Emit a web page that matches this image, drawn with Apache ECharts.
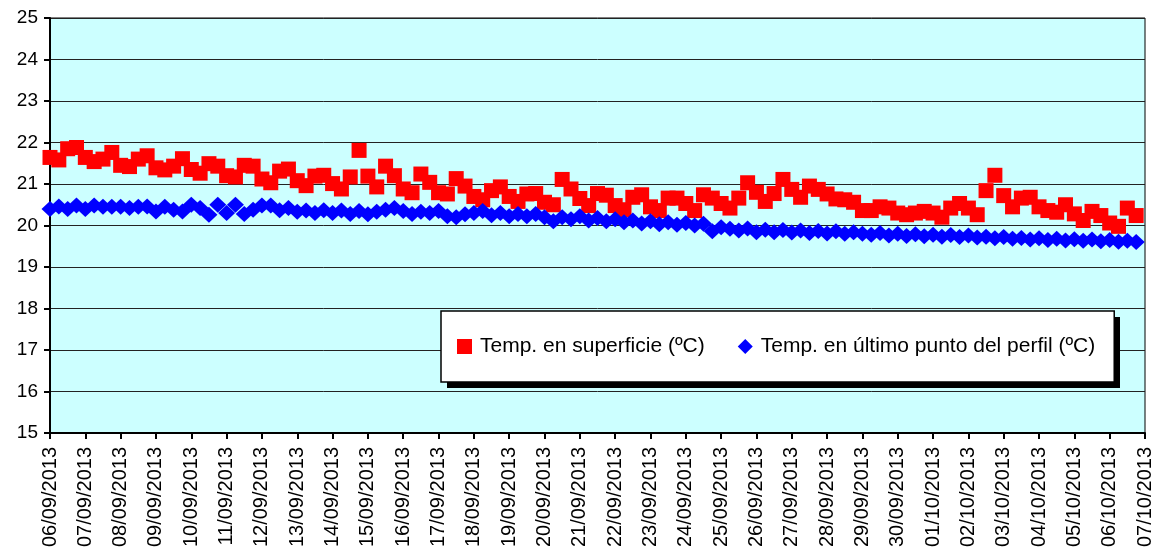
<!DOCTYPE html>
<html>
<head>
<meta charset="utf-8">
<script src="https://cdn.jsdelivr.net/npm/echarts@6/dist/echarts.min.js"></script>
<style>
html,body{margin:0;padding:0;background:#fff;}
#chart{width:1155px;height:555px;}
</style>
</head>
<body>
<div id="chart"></div>
<script>
// Tick labels (one per day)
const dayLabels = ["06/09/2013","07/09/2013","08/09/2013","09/09/2013","10/09/2013","11/09/2013","12/09/2013","13/09/2013","14/09/2013","15/09/2013","16/09/2013","17/09/2013","18/09/2013","19/09/2013","20/09/2013","21/09/2013","22/09/2013","23/09/2013","24/09/2013","25/09/2013","26/09/2013","27/09/2013","28/09/2013","29/09/2013","30/09/2013","01/10/2013","02/10/2013","03/10/2013","04/10/2013","05/10/2013","06/10/2013","07/10/2013"];
const hours = ["00:00","06:00","12:00","18:00"];

const seriesNames = ["Temp. en superficie (ºC)", "Temp. en último punto del perfil (ºC)"];

// Surface temperature (every 6 h)
const surfaceTemp = [
21.64,21.58,21.85,21.88,21.64,21.54,21.60,21.76,21.45,21.42,
21.60,21.68,21.39,21.34,21.43,21.61,21.35,21.26,21.49,21.43,
21.20,21.17,21.45,21.43,21.12,21.03,21.31,21.36,21.08,20.96,
21.19,21.21,21.01,20.88,21.17,21.81,21.19,20.93,21.43,21.20,
20.88,20.79,21.24,21.04,20.79,20.76,21.13,20.95,20.70,20.62,
20.84,20.93,20.70,20.58,20.76,20.77,20.56,20.50,21.11,20.88,
20.65,20.48,20.77,20.73,20.48,20.38,20.68,20.74,20.45,20.36,
20.66,20.66,20.53,20.36,20.74,20.66,20.53,20.42,20.66,21.03,
20.80,20.58,20.77,21.11,20.87,20.68,20.95,20.87,20.76,20.64,
20.62,20.56,20.36,20.36,20.45,20.42,20.30,20.26,20.30,20.34,
20.30,20.20,20.42,20.53,20.42,20.26,20.84,21.21,20.72,20.45,
20.66,20.68,20.45,20.36,20.32,20.50,20.28,20.12,20.34,20.24,
20.06,19.98,20.42,20.24
];

// Temperature at last profile point (every 6 h)
const bottomTemp = [
20.40,20.46,20.40,20.48,20.40,20.48,20.45,20.45,20.45,20.42,
20.45,20.46,20.34,20.45,20.38,20.34,20.50,20.42,20.26,20.50,
20.30,20.50,20.28,20.38,20.48,20.48,20.37,20.42,20.33,20.36,
20.30,20.37,20.30,20.36,20.28,20.35,20.27,20.33,20.38,20.42,
20.35,20.28,20.33,20.30,20.35,20.22,20.20,20.27,20.30,20.35,
20.25,20.30,20.22,20.28,20.22,20.28,20.20,20.10,20.20,20.15,
20.22,20.12,20.18,20.10,20.15,20.08,20.12,20.05,20.10,20.03,
20.08,20.02,20.06,20.00,20.04,19.86,19.96,19.92,19.88,19.93,
19.84,19.90,19.84,19.89,19.83,19.88,19.82,19.87,19.81,19.86,
19.80,19.84,19.80,19.78,19.82,19.76,19.80,19.75,19.79,19.74,
19.78,19.73,19.77,19.72,19.76,19.71,19.73,19.69,19.72,19.68,
19.70,19.66,19.69,19.65,19.68,19.64,19.67,19.63,19.66,19.62,
19.65,19.61,19.63,19.60
];

const categories = [];
dayLabels.forEach((d, i) => {
  if (i < dayLabels.length - 1) hours.forEach(h => categories.push(d + " " + h));
  else categories.push(d + " " + hours[0]);
});

const font = "'Liberation Sans', Arial, sans-serif";
const chart = echarts.init(document.getElementById('chart'), null, {renderer: 'canvas'});
chart.setOption({
  animation: false,
  backgroundColor: '#ffffff',
  grid: {
    left: 50, right: 8, top: 18, bottom: 122,
    show: true, backgroundColor: '#CCFFFF', borderColor: '#000', borderWidth: 1
  },
  graphic: [{
    type: 'rect', z: 50, silent: true,
    shape: {x: 447, y: 317, width: 673, height: 71},
    style: {fill: '#000'}
  }],
  legend: {
    left: 441, top: 311, z: 60,
    backgroundColor: '#ffffff', borderColor: '#000', borderWidth: 1.5,
    padding: [25, 19, 25, 16],
    itemGap: 33, itemWidth: 15, itemHeight: 15,
    textStyle: {fontSize: 21, fontFamily: font, color: '#000', padding: [0,0,0,3]},
    data: [{name: seriesNames[0], icon: 'rect'}, {name: seriesNames[1], icon: 'diamond'}]
  },
  xAxis: {
    type: 'category', data: categories, boundaryGap: false,
    axisLine: {lineStyle: {color: '#000', width: 2}},
    axisTick: {show: true, interval: 3, length: 6, lineStyle: {color: '#000', width: 2}},
    axisLabel: {
      interval: 3, rotate: 90, margin: 14, fontSize: 20, fontFamily: font, color: '#000',
      formatter: v => v.split(' ')[0]
    },
    splitLine: {show: false}
  },
  yAxis: {
    type: 'value', min: 15, max: 25, interval: 1,
    axisLine: {show: true, lineStyle: {color: '#000', width: 2}},
    axisTick: {show: true, length: 6, lineStyle: {color: '#000', width: 2}},
    axisLabel: {fontSize: 19, fontFamily: font, color: '#000', margin: 12},
    splitLine: {show: true, lineStyle: {color: '#222', width: 1}}
  },
  series: [
    {
      name: seriesNames[0], type: 'scatter', data: surfaceTemp,
      symbol: 'rect', symbolSize: 15,
      itemStyle: {color: '#FF0000', opacity: 1}
    },
    {
      name: seriesNames[1], type: 'scatter', data: bottomTemp,
      symbol: 'diamond', symbolSize: [17, 16],
      itemStyle: {color: '#0000FF', opacity: 1}
    }
  ]
});
</script>
</body>
</html>
